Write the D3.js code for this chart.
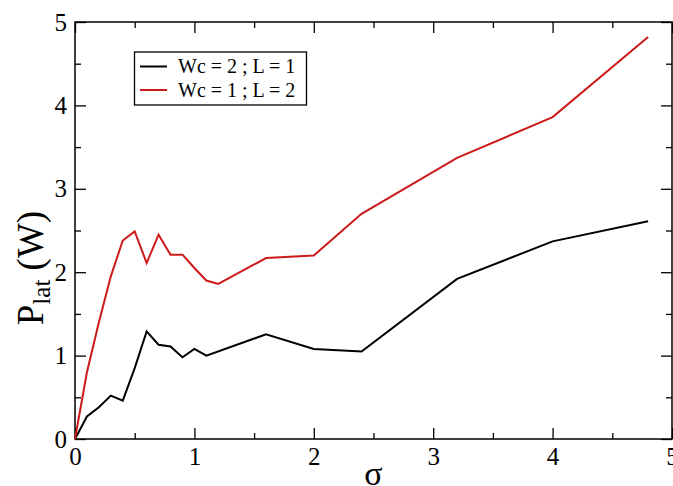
<!DOCTYPE html>
<meta charset="utf-8">
<style>

body {
  margin: 0;
  background: #fff;
  overflow: hidden;
}

.tick line {
  stroke: #000;
  stroke-width: 1.3px;
}

.domain {
  display: none;
}

.frame {
  fill: none;
  stroke: #000;
  stroke-width: 1.5px;
}

.series {
  fill: none;
  stroke-width: 2px;
  stroke-linejoin: miter;
}

</style>
<svg width=673 height=486></svg>
<script src='https://cdnjs.cloudflare.com/ajax/libs/d3/7.8.5/d3.min.js'></script>
<script>

// values
const sigmaBlack = [0, 0.1, 0.2, 0.3, 0.4, 0.5, 0.6, 0.7, 0.8, 0.9, 1.0, 1.1, 1.6, 2.0, 2.4, 3.2, 4.0, 4.8];
const platBlack  = [0, 0.27, 0.38, 0.52, 0.46, 0.85, 1.29, 1.13, 1.11, 0.98, 1.08, 1.0, 1.255, 1.08, 1.05, 1.92, 2.37, 2.61];

const sigmaRed = [0, 0.1, 0.2, 0.3, 0.4, 0.5, 0.6, 0.7, 0.8, 0.9, 1.0, 1.1, 1.2, 1.6, 2.0, 2.4, 3.2, 4.0, 4.8];
const platRed  = [0, 0.8, 1.4, 1.95, 2.38, 2.49, 2.11, 2.45, 2.21, 2.21, 2.05, 1.9, 1.86, 2.17, 2.2, 2.7, 3.37, 3.86, 4.82];

const seriesNames = ["Wc = 2 ; L = 1", "Wc = 1 ; L = 2"];
const seriesColours = ["#000000", "#cc1a1a"];

const majorTicks = [0, 1, 2, 3, 4, 5];
const minorTicks = [0.5, 1.5, 2.5, 3.5, 4.5];

const plotLeft = 75, plotRight = 672, plotTop = 22, plotBottom = 439;
const majorLen = 11, minorLen = 6;
const serif = "'Liberation Serif', 'DejaVu Serif', serif";

const svg = d3.select("svg");

const x = d3.scaleLinear().domain([0, 5]).range([plotLeft, plotRight]);
const y = d3.scaleLinear().domain([0, 5]).range([plotBottom, plotTop]);

function styleLabels(g) {
  g.attr("font-family", serif).attr("font-size", 25);
  g.selectAll("text").attr("fill", "#000").attr("font-family", serif);
}

// bottom axis with labels
svg.append("g")
    .attr("transform", "translate(0," + plotBottom + ")")
    .call(d3.axisBottom(x).tickValues(majorTicks).tickSize(-majorLen).tickPadding(8).tickFormat(d3.format("d")))
    .call(styleLabels);
svg.append("g")
    .attr("transform", "translate(0," + plotBottom + ")")
    .call(d3.axisBottom(x).tickValues(minorTicks).tickSize(-minorLen).tickFormat(""));

// top mirror ticks
svg.append("g")
    .attr("transform", "translate(0," + plotTop + ")")
    .call(d3.axisTop(x).tickValues(majorTicks).tickSize(-majorLen).tickFormat(""));
svg.append("g")
    .attr("transform", "translate(0," + plotTop + ")")
    .call(d3.axisTop(x).tickValues(minorTicks).tickSize(-minorLen).tickFormat(""));

// left axis with labels
svg.append("g")
    .attr("transform", "translate(" + plotLeft + ",0)")
    .call(d3.axisLeft(y).tickValues(majorTicks).tickSize(-majorLen).tickPadding(8).tickFormat(d3.format("d")))
    .call(styleLabels);
svg.append("g")
    .attr("transform", "translate(" + plotLeft + ",0)")
    .call(d3.axisLeft(y).tickValues(minorTicks).tickSize(-minorLen).tickFormat(""));

// right mirror ticks
svg.append("g")
    .attr("transform", "translate(" + plotRight + ",0)")
    .call(d3.axisRight(y).tickValues(majorTicks).tickSize(-majorLen).tickFormat(""));
svg.append("g")
    .attr("transform", "translate(" + plotRight + ",0)")
    .call(d3.axisRight(y).tickValues(minorTicks).tickSize(-minorLen).tickFormat(""));

svg.append("rect")
    .attr("class", "frame")
    .attr("x", plotLeft)
    .attr("y", plotTop)
    .attr("width", plotRight - plotLeft)
    .attr("height", plotBottom - plotTop);

// series lines
const line = d3.line().x(d => x(d[0])).y(d => y(d[1]));
const series = [
  d3.zip(sigmaBlack, platBlack),
  d3.zip(sigmaRed, platRed)
];

svg.selectAll(".series")
  .data(series)
  .enter().append("path")
    .attr("class", "series")
    .attr("d", line)
    .style("stroke", (d, i) => seriesColours[i]);

// axis titles
svg.append("text")
    .attr("x", (plotLeft + plotRight) / 2)
    .attr("y", 485)
    .attr("text-anchor", "middle")
    .attr("font-family", serif)
    .attr("font-size", 34)
    .text("σ");

const ytitle = svg.append("text")
    .attr("transform", "translate(43,268) rotate(-90)")
    .attr("text-anchor", "middle")
    .attr("font-family", serif)
    .attr("font-size", 37);
ytitle.append("tspan").text("P");
ytitle.append("tspan").attr("font-size", 25).attr("dy", 7).text("lat");
ytitle.append("tspan").attr("dy", -7).text(" (W)");

// legend
const legend = svg.append("g");
legend.append("rect")
    .attr("x", 134.5)
    .attr("y", 52)
    .attr("width", 172)
    .attr("height", 53)
    .style("fill", "#fff")
    .style("stroke", "#000")
    .style("stroke-width", 1.3);

const rows = legend.selectAll(".row")
  .data(seriesNames)
  .enter().append("g")
    .attr("class", "row")
    .attr("transform", (d, i) => "translate(0," + (66.5 + i * 23.5) + ")");

rows.append("line")
    .attr("x1", 140)
    .attr("x2", 167)
    .style("stroke", (d, i) => seriesColours[i])
    .style("stroke-width", 2);

rows.append("text")
    .attr("x", 178)
    .attr("dy", "0.33em")
    .attr("font-family", serif)
    .attr("font-size", 20)
    .text(d => d);

</script>
